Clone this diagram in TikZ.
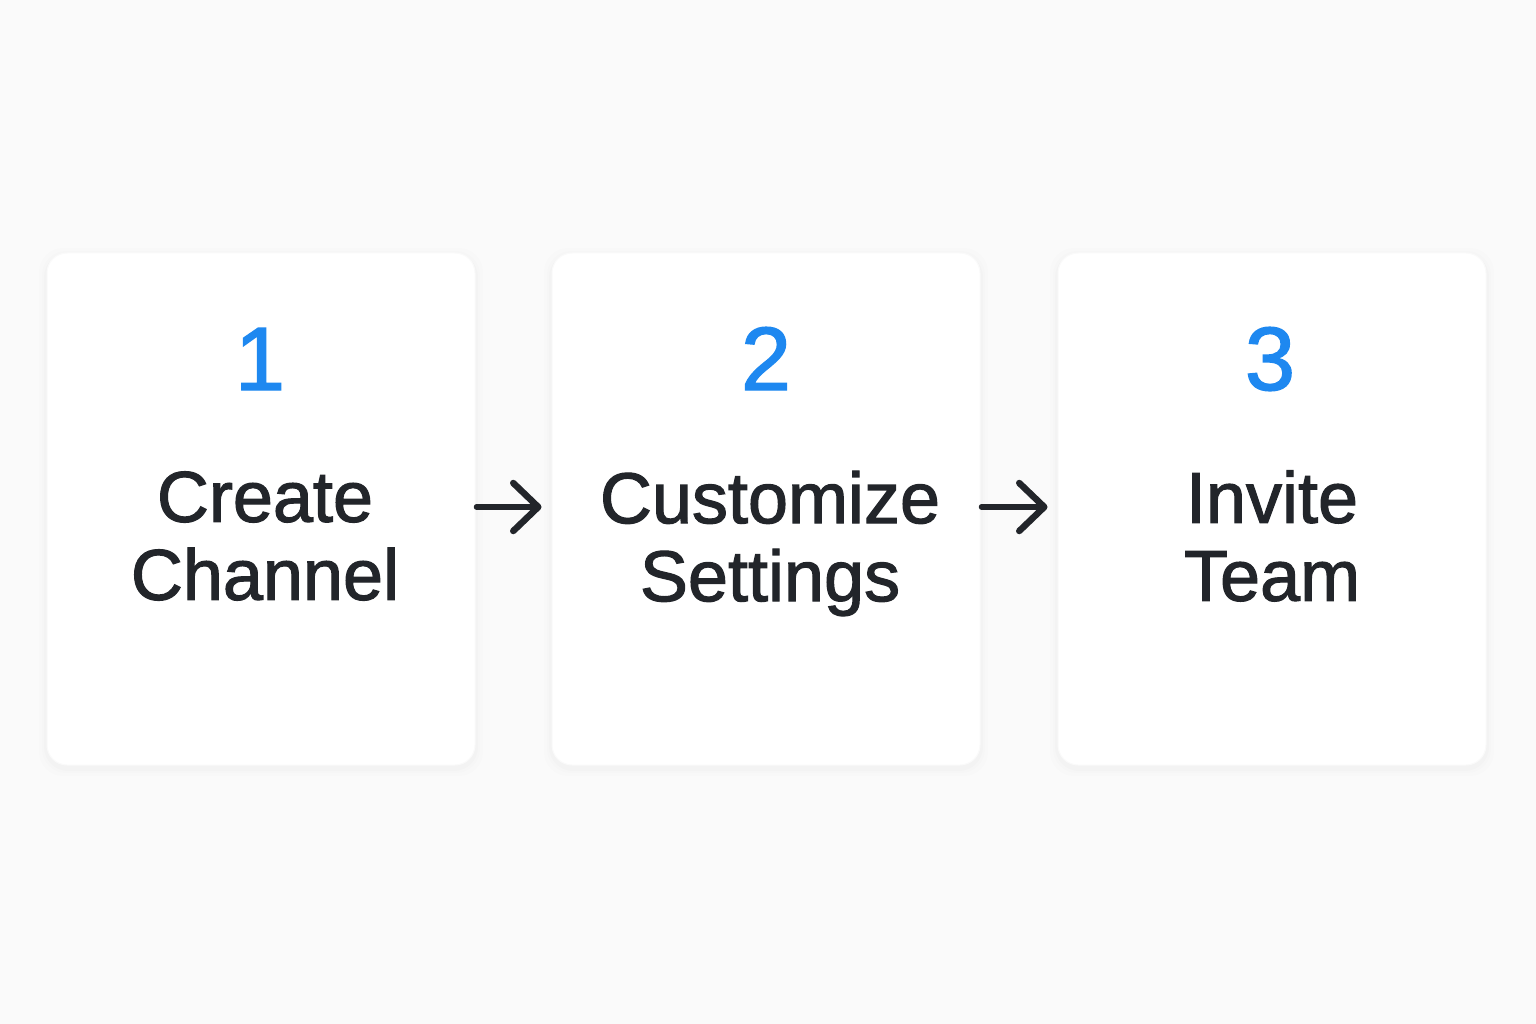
\documentclass[tikz,border=0pt]{standalone}
\usepackage{fontspec}
\setmainfont{Liberation Sans}
\newfontfamily\medfont{Liberation Sans}[FakeBold=1.6]
\usetikzlibrary{arrows.meta}
\definecolor{bgc}{HTML}{FAFAFA}
\definecolor{numblue}{HTML}{1E88F0}
\definecolor{ink}{HTML}{22252A}
\tikzset{
  card/.style={minimum width=428pt, minimum height=512pt, rounded corners=20pt, fill=white, draw=black!2, line width=1pt, inner sep=0pt},
  num/.style={text=numblue, font=\medfont\fontsize{90}{90}\selectfont, anchor=base, inner sep=0pt},
  lbl/.style={text=ink, font=\medfont\fontsize{72}{78}\selectfont, align=center, anchor=center, inner sep=0pt},
  flow/.style={draw=ink, line width=5.5pt, line cap=round, shorten <=1pt, shorten >=10pt,
    -{Straight Barb[length=25pt, width=48pt, line width=6.5pt, round]}},
}
\begin{document}
\begin{tikzpicture}[x=1pt,y=-1pt]
\fill[bgc] (0,0) rectangle (1536,1024);
\useasboundingbox (0,0) rectangle (1536,1024);
\foreach \cx in {261,766,1272}{
  \foreach \e/\o in {8/0.006,5/0.008,3/0.010}{
    \fill[black, opacity=\o, rounded corners=24pt] (\cx-214-\e,253-\e+3) rectangle (\cx+214+\e,765+\e+3);
  }
}
\node[card] (card1) at (261,509) {};
\node[card] (card2) at (766,509) {};
\node[card] (card3) at (1272,509) {};
\node[num] (num1) at (260,390) {1};
\node[num] (num2) at (766,390) {2};
\node[num] (num3) at (1270,390) {3};
\node[lbl] (lbl1) at (265,536) {Create\\Channel};
\node[lbl] (lbl2) at (770,543.5) {Customize\\Settings};
\node[lbl] (lbl3) at (1272,536) {Invite\\Team};
\draw[flow] (card1.east |- 0,507) -- (card2.west |- 0,507);
\draw[flow] (card2.east |- 0,507) -- (card3.west |- 0,507);
\end{tikzpicture}
\end{document}
